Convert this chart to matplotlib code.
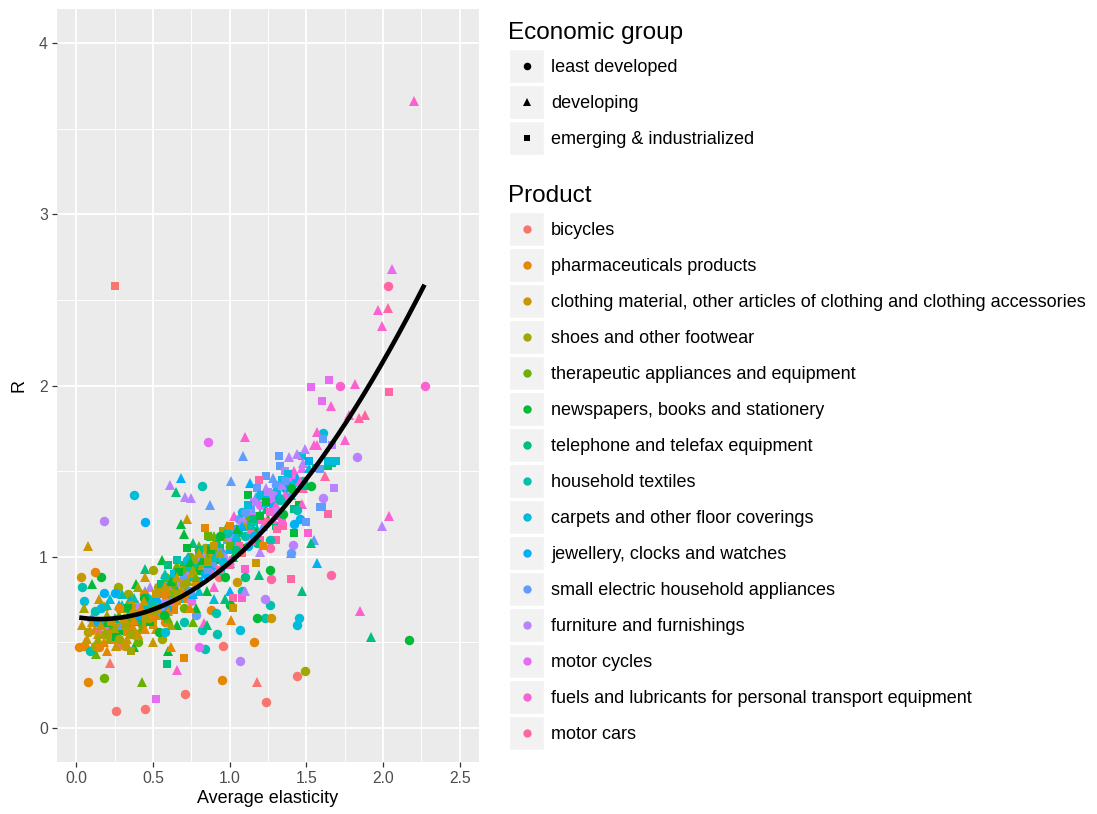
import numpy as np
import matplotlib
matplotlib.use("Agg")
import matplotlib.pyplot as plt
from matplotlib.patches import Rectangle

plt.rcParams['font.family'] = ['Liberation Sans', 'DejaVu Sans']

# ---- data: (average elasticity, R, economic group) per product ----
# group codes: L = least developed, D = developing, E = emerging & industrialized
bicycles = [(0.25, 2.58, 'E'), (0.26, 0.10, 'L'), (0.45, 0.11, 'L'), (0.22, 0.38, 'D'),
            (0.27, 0.48, 'L'), (0.71, 0.20, 'L'), (0.96, 0.48, 'L'), (1.18, 0.27, 'D'),
            (1.24, 0.15, 'L'), (1.44, 0.30, 'L'), (0.62, 0.72, 'D'), (0.93, 0.88, 'L'),
            (1.08, 1.02, 'E')]
pharmaceuticals = [(0.02, 0.47, 'L'), (0.05, 0.48, 'L'), (0.08, 0.27, 'L'), (0.12, 0.91, 'L'),
                   (0.12, 0.58, 'D'), (0.22, 0.56, 'D'), (0.30, 0.62, 'D'), (0.62, 0.47, 'D'),
                   (0.70, 0.41, 'E'), (0.95, 0.28, 'L'), (1.01, 0.63, 'D'), (0.88, 0.69, 'L'),
                   (1.16, 0.50, 'L'), (0.84, 1.17, 'E'), (0.40, 0.55, 'D'), (0.48, 0.67, 'D'),
                   (0.55, 0.72, 'E'), (0.58, 0.62, 'L'), (0.35, 0.60, 'L'), (0.68, 0.80, 'D'),
                   (0.72, 0.75, 'E'), (0.18, 0.50, 'D'), (0.44, 0.78, 'L'), (0.52, 0.58, 'D'),
                   (0.64, 0.69, 'E'), (0.78, 0.84, 'L'), (0.06, 0.50, 'D'), (0.15, 0.47, 'L'),
                   (0.20, 0.45, 'D'), (0.26, 0.52, 'D'), (0.33, 0.56, 'E'), (0.38, 0.63, 'D'),
                   (0.45, 0.58, 'D'), (0.50, 0.64, 'E'), (0.53, 0.70, 'D'), (0.60, 0.68, 'D'),
                   (0.66, 0.74, 'E'), (0.57, 0.78, 'L'), (0.42, 0.70, 'D'), (0.28, 0.70, 'L'),
                   (0.74, 0.70, 'D'), (1.00, 1.18, 'E'), (1.22, 1.06, 'E')]
clothing = [(0.08, 1.06, 'D'), (0.72, 1.22, 'D'), (0.03, 0.88, 'L'), (0.10, 0.62, 'D'),
            (0.15, 0.75, 'D'), (0.18, 0.71, 'D'), (0.20, 0.57, 'D'), (0.25, 0.55, 'E'),
            (0.28, 0.60, 'L'), (0.33, 0.52, 'D'), (0.38, 0.58, 'D'), (0.42, 0.64, 'L'),
            (0.47, 0.70, 'D'), (0.50, 0.60, 'E'), (0.55, 0.66, 'D'), (0.60, 0.75, 'L'),
            (0.65, 0.82, 'D'), (0.70, 0.78, 'D'), (0.75, 0.90, 'E'), (0.82, 0.95, 'D'),
            (0.88, 1.00, 'L'), (1.17, 0.96, 'E'), (1.05, 0.85, 'L'), (1.27, 0.64, 'L'),
            (0.32, 0.48, 'L'), (0.14, 0.55, 'D'), (0.45, 0.88, 'D'), (0.95, 1.12, 'D'),
            (1.02, 0.70, 'E'), (0.07, 0.52, 'D'), (0.36, 0.72, 'L'), (0.04, 0.60, 'D'),
            (0.09, 0.57, 'D'), (0.16, 0.60, 'D'), (0.23, 0.62, 'E'), (0.31, 0.64, 'D'),
            (0.37, 0.67, 'L'), (0.44, 0.74, 'D'), (0.52, 0.78, 'E'), (0.58, 0.83, 'D'),
            (0.66, 0.88, 'D'), (0.80, 1.02, 'D'), (0.90, 1.06, 'E'), (0.40, 0.54, 'D'),
            (0.26, 0.48, 'D'), (0.50, 0.50, 'D')]
shoes = [(0.27, 0.82, 'L'), (0.34, 0.78, 'L'), (0.50, 0.92, 'L'), (0.22, 0.51, 'E'),
         (0.23, 0.53, 'E'), (0.17, 0.62, 'L'), (0.20, 0.66, 'D'), (0.30, 0.70, 'D'),
         (0.38, 0.65, 'E'), (0.43, 0.60, 'L'), (0.48, 0.74, 'D'), (0.53, 0.82, 'L'),
         (0.58, 0.70, 'E'), (0.63, 0.85, 'D'), (0.68, 0.92, 'L'), (0.73, 0.86, 'D'),
         (0.78, 0.98, 'E'), (0.84, 1.05, 'L'), (0.90, 1.08, 'D'), (0.96, 1.15, 'E'),
         (1.10, 1.18, 'D'), (0.12, 0.48, 'L'), (0.40, 0.82, 'D'), (0.56, 0.52, 'L'),
         (0.05, 0.70, 'D'), (0.36, 0.45, 'E'), (0.62, 0.60, 'D'), (1.49, 0.33, 'L'),
         (0.08, 0.56, 'L'), (0.14, 0.52, 'D'), (0.19, 0.55, 'L'), (0.25, 0.58, 'D'),
         (0.32, 0.60, 'E'), (0.36, 0.55, 'L'), (0.46, 0.64, 'D'), (0.51, 0.69, 'L'),
         (0.60, 0.80, 'D'), (0.66, 0.78, 'E'), (0.70, 0.84, 'L'), (0.76, 0.92, 'D'),
         (0.86, 0.97, 'E'), (0.94, 1.02, 'D'), (0.28, 0.52, 'L')]
therapeutic = [(0.18, 0.29, 'L'), (0.43, 0.27, 'D'), (0.13, 0.43, 'D'), (0.35, 0.75, 'D'),
               (0.45, 0.68, 'L'), (0.52, 0.75, 'D'), (0.58, 0.88, 'L'), (0.66, 0.95, 'D'),
               (0.74, 1.00, 'L'), (0.80, 1.06, 'D'), (0.86, 1.12, 'E'), (0.92, 1.04, 'L'),
               (0.98, 1.18, 'D'), (1.04, 1.10, 'L'), (0.28, 0.66, 'D'), (0.62, 0.78, 'E'),
               (0.70, 0.70, 'L'), (1.12, 1.24, 'D'), (0.40, 0.50, 'L'), (0.76, 0.62, 'D'),
               (0.24, 0.60, 'D'), (0.33, 0.62, 'L'), (0.48, 0.72, 'D'), (0.56, 0.70, 'D'),
               (0.64, 0.84, 'L'), (0.72, 0.92, 'E'), (0.78, 0.88, 'D'), (0.84, 0.99, 'L'),
               (0.90, 1.12, 'D'), (1.00, 1.06, 'E'), (0.60, 0.64, 'D'), (0.42, 0.58, 'D')]
newspapers = [(0.16, 0.88, 'L'), (0.10, 0.84, 'D'), (0.39, 0.84, 'D'), (0.38, 0.47, 'D'),
              (0.60, 0.45, 'D'), (0.68, 1.19, 'D'), (0.70, 1.13, 'D'), (1.12, 1.36, 'E'),
              (1.18, 0.64, 'L'), (2.17, 0.51, 'L'), (0.56, 0.98, 'D'), (0.72, 1.05, 'E'),
              (0.80, 0.92, 'L'), (0.85, 0.80, 'D'), (0.92, 0.98, 'E'), (0.97, 0.88, 'L'),
              (1.02, 1.00, 'D'), (1.08, 1.05, 'E'), (1.15, 1.15, 'L'), (1.25, 1.22, 'D'),
              (1.35, 1.25, 'L'), (1.45, 1.30, 'E'), (0.48, 0.62, 'E'), (0.54, 0.56, 'L'),
              (0.66, 0.60, 'D'), (0.30, 0.57, 'L'), (1.00, 0.72, 'L'), (0.78, 0.70, 'D'),
              (1.40, 1.40, 'L'), (0.20, 0.62, 'D'), (0.34, 0.70, 'E'), (0.44, 0.76, 'L'),
              (0.62, 0.86, 'D'), (0.67, 0.91, 'E'), (0.74, 0.97, 'D'), (0.88, 1.04, 'E'),
              (0.94, 1.12, 'L'), (1.05, 1.16, 'D'), (1.20, 1.24, 'E'), (0.82, 0.98, 'D'),
              (0.26, 0.53, 'E'), (0.57, 0.66, 'L'), (1.26, 0.92, 'L'), (1.53, 1.41, 'L'),
              (1.42, 1.14, 'E'), (1.24, 1.32, 'E')]
telephone = [(0.65, 1.38, 'D'), (0.59, 0.37, 'E'), (0.45, 0.93, 'D'), (0.62, 0.88, 'D'),
             (0.70, 0.95, 'E'), (0.76, 1.08, 'D'), (0.82, 0.92, 'L'), (0.88, 1.12, 'D'),
             (0.94, 1.05, 'E'), (1.00, 0.96, 'D'), (1.06, 1.14, 'E'), (1.12, 1.20, 'D'),
             (1.18, 1.08, 'L'), (1.24, 1.28, 'D'), (1.30, 1.18, 'E'), (1.36, 1.34, 'D'),
             (1.42, 1.28, 'E'), (1.50, 1.42, 'D'), (1.67, 1.55, 'E'), (1.64, 1.53, 'E'),
             (1.92, 0.53, 'D'), (1.47, 0.80, 'D'), (0.85, 0.60, 'D'), (0.50, 0.76, 'D'),
             (0.40, 0.62, 'E'), (1.10, 0.88, 'L'), (0.25, 0.64, 'D'), (0.35, 0.68, 'D'),
             (0.55, 0.84, 'E'), (0.66, 0.80, 'D'), (0.73, 1.00, 'D'), (0.80, 1.04, 'E'),
             (0.86, 0.96, 'D'), (0.92, 1.08, 'D'), (1.04, 1.04, 'L'), (1.16, 1.22, 'E'),
             (1.53, 1.08, 'D'), (0.97, 0.75, 'D'), (0.60, 0.95, 'E'), (1.19, 0.89, 'D')]
textiles = [(0.82, 1.41, 'L'), (0.04, 0.82, 'L'), (0.09, 0.45, 'L'), (0.82, 0.57, 'L'),
            (0.92, 0.55, 'L'), (1.23, 0.64, 'L'), (0.84, 0.46, 'L'), (0.30, 0.78, 'D'),
            (0.55, 0.80, 'L'), (0.62, 0.70, 'D'), (0.70, 0.86, 'E'), (0.78, 0.96, 'L'),
            (0.86, 1.02, 'D'), (0.94, 0.92, 'L'), (1.02, 1.08, 'E'), (1.10, 1.12, 'L'),
            (1.18, 1.16, 'D'), (1.26, 1.10, 'L'), (1.32, 1.24, 'E'), (1.40, 1.36, 'D'),
            (1.48, 1.44, 'L'), (1.56, 1.52, 'E'), (1.08, 0.80, 'L'), (0.46, 0.72, 'E'),
            (0.20, 0.72, 'D'), (0.70, 0.62, 'L'), (0.12, 0.68, 'L'), (0.38, 0.76, 'D'),
            (0.50, 0.72, 'L'), (0.58, 0.90, 'D'), (0.66, 0.98, 'E'), (0.74, 0.94, 'L'),
            (0.90, 1.00, 'D'), (0.98, 1.14, 'L'), (1.14, 1.18, 'E'), (1.44, 1.27, 'L'),
            (1.26, 0.72, 'L'), (0.91, 0.67, 'L'), (1.33, 1.33, 'L')]
carpets = [(0.38, 1.36, 'L'), (0.05, 0.74, 'L'), (1.61, 1.72, 'L'), (1.47, 1.59, 'E'),
           (1.34, 1.45, 'E'), (1.41, 1.43, 'E'), (1.07, 0.57, 'L'), (1.45, 0.64, 'L'),
           (1.44, 0.60, 'L'), (0.22, 0.75, 'D'), (0.40, 0.70, 'L'), (0.52, 0.66, 'E'),
           (0.60, 0.83, 'L'), (0.68, 0.76, 'D'), (0.76, 0.88, 'E'), (0.84, 0.98, 'L'),
           (0.92, 1.10, 'D'), (1.00, 1.04, 'E'), (1.08, 1.26, 'L'), (1.16, 1.20, 'E'),
           (1.24, 1.32, 'D'), (1.30, 1.38, 'L'), (1.38, 1.48, 'E'), (1.52, 1.52, 'D'),
           (1.69, 1.56, 'E'), (0.90, 0.75, 'D'), (0.58, 0.56, 'L'), (0.16, 0.70, 'L'),
           (0.30, 0.72, 'D'), (0.46, 0.76, 'L'), (0.64, 0.90, 'E'), (0.72, 0.98, 'L'),
           (0.80, 0.80, 'D'), (0.88, 1.05, 'E'), (0.96, 0.97, 'L'), (1.04, 1.12, 'D'),
           (1.12, 1.30, 'E'), (1.20, 1.36, 'L'), (1.64, 1.56, 'E')]
jewellery = [(0.68, 1.46, 'D'), (1.13, 1.43, 'D'), (0.45, 1.20, 'L'), (0.18, 0.79, 'L'),
             (0.25, 0.79, 'L'), (1.57, 0.96, 'D'), (0.35, 0.74, 'D'), (0.48, 0.70, 'L'),
             (0.56, 0.78, 'E'), (0.64, 0.74, 'L'), (0.72, 0.82, 'D'), (0.80, 0.86, 'E'),
             (0.88, 0.94, 'L'), (0.96, 1.02, 'D'), (1.04, 1.16, 'E'), (1.12, 1.06, 'L'),
             (1.20, 1.25, 'D'), (1.28, 1.30, 'E'), (1.36, 1.40, 'L'), (1.44, 1.46, 'D'),
             (1.52, 1.56, 'E'), (1.46, 1.22, 'L'), (1.00, 0.80, 'D'), (0.14, 0.62, 'L'),
             (0.28, 0.72, 'D'), (0.40, 0.66, 'E'), (0.52, 0.74, 'L'), (0.60, 0.70, 'E'),
             (0.76, 0.78, 'D'), (0.84, 0.90, 'L'), (0.92, 1.00, 'E'), (1.08, 1.18, 'D'),
             (1.16, 1.12, 'L'), (1.24, 1.36, 'E'), (1.32, 1.34, 'L'), (1.42, 1.19, 'L')]
small_electric = [(1.09, 1.59, 'D'), (1.01, 1.44, 'D'), (0.87, 1.30, 'D'), (1.24, 1.47, 'E'),
                  (1.17, 1.35, 'D'), (1.32, 1.59, 'E'), (1.33, 1.53, 'E'), (1.61, 1.69, 'E'),
                  (1.59, 1.29, 'E'), (1.26, 1.33, 'E'), (1.25, 1.38, 'E'), (0.10, 0.65, 'D'),
                  (0.45, 0.80, 'D'), (0.70, 0.88, 'L'), (0.80, 1.00, 'E'), (0.90, 0.96, 'D'),
                  (0.98, 1.10, 'E'), (1.06, 1.22, 'L'), (1.14, 1.28, 'E'), (1.22, 1.18, 'D'),
                  (1.30, 1.42, 'L'), (1.38, 1.35, 'E'), (1.55, 1.10, 'D'), (0.78, 0.66, 'L'),
                  (1.40, 1.02, 'L'), (1.50, 1.20, 'E'), (0.30, 0.60, 'D'), (0.55, 0.68, 'E'),
                  (0.62, 0.74, 'D'), (0.74, 0.80, 'L'), (0.86, 0.92, 'E'), (0.94, 1.04, 'D'),
                  (1.02, 1.14, 'E'), (1.10, 1.26, 'L'), (1.18, 1.40, 'E'), (1.28, 1.46, 'D'),
                  (1.36, 1.44, 'E'), (1.40, 1.02, 'D'), (1.59, 1.51, 'E'), (1.60, 1.29, 'E')]
furniture = [(0.61, 1.42, 'D'), (0.71, 1.35, 'D'), (0.75, 1.34, 'D'), (0.18, 1.21, 'L'),
             (0.48, 0.82, 'D'), (1.07, 0.39, 'L'), (1.99, 1.18, 'D'), (1.83, 1.58, 'L'),
             (1.68, 1.40, 'E'), (1.61, 1.34, 'L'), (1.39, 1.58, 'D'), (1.44, 1.60, 'D'),
             (1.49, 1.63, 'D'), (1.48, 1.55, 'D'), (1.67, 1.65, 'E'), (0.92, 1.06, 'E'),
             (1.00, 1.12, 'D'), (1.08, 1.20, 'L'), (1.16, 1.32, 'E'), (1.24, 1.40, 'D'),
             (1.30, 1.26, 'L'), (1.36, 1.50, 'E'), (0.85, 0.94, 'L'), (0.58, 0.76, 'D'),
             (0.68, 0.84, 'E'), (1.20, 1.03, 'D'), (0.40, 0.72, 'D'), (0.66, 0.78, 'L'),
             (0.74, 0.92, 'D'), (0.82, 1.00, 'E'), (0.96, 1.00, 'L'), (1.04, 1.16, 'D'),
             (1.12, 1.26, 'E'), (1.28, 1.36, 'L'), (1.34, 1.42, 'D'), (1.41, 1.07, 'L'),
             (1.10, 0.80, 'D'), (1.23, 0.75, 'L'), (1.25, 1.38, 'E')]
motor_cycles = [(0.86, 1.67, 'L'), (2.06, 2.68, 'D'), (1.53, 1.99, 'E'), (1.65, 2.03, 'E'),
                (1.60, 1.91, 'E'), (0.52, 0.17, 'E'), (0.80, 0.47, 'L'), (1.20, 1.30, 'L'),
                (1.30, 1.40, 'D'), (1.38, 1.46, 'E'), (0.95, 1.02, 'L'), (1.10, 1.20, 'D'),
                (1.47, 1.52, 'D'), (0.20, 0.60, 'D'), (0.62, 0.80, 'L'), (0.88, 0.90, 'L'),
                (1.00, 1.08, 'D'), (1.16, 1.24, 'E'), (1.26, 1.34, 'L'), (1.40, 1.48, 'D'),
                (0.75, 0.74, 'L')]
fuels = [(2.20, 3.66, 'D'), (1.10, 1.70, 'D'), (1.03, 1.24, 'D'), (1.82, 2.01, 'D'),
         (1.66, 1.88, 'D'), (1.57, 1.73, 'D'), (1.57, 1.65, 'D'), (1.75, 1.68, 'D'),
         (1.55, 1.65, 'D'), (1.42, 1.50, 'D'), (1.97, 2.44, 'D'), (1.99, 2.35, 'D'),
         (2.27, 2.00, 'L'), (2.04, 1.24, 'D'), (1.85, 0.68, 'D'), (0.66, 0.34, 'D'),
         (0.83, 0.61, 'D'), (1.20, 1.22, 'D'), (1.30, 1.30, 'D'), (1.34, 1.20, 'E'),
         (1.10, 0.93, 'E'), (0.90, 0.82, 'D'), (1.72, 2.00, 'L'), (1.78, 1.83, 'D'),
         (1.51, 1.14, 'E'), (1.00, 0.98, 'D'), (1.14, 1.10, 'D'), (1.26, 1.26, 'E'),
         (1.36, 1.36, 'D'), (1.46, 1.44, 'D'), (1.28, 1.22, 'D'), (0.64, 0.74, 'D'),
         (1.08, 0.76, 'E'), (1.47, 1.31, 'D')]
motor_cars = [(2.03, 2.58, 'L'), (2.03, 2.45, 'D'), (2.04, 1.96, 'E'), (1.84, 1.81, 'D'),
              (1.88, 1.83, 'D'), (1.19, 1.45, 'E'), (1.66, 0.89, 'L'), (1.40, 0.87, 'E'),
              (1.27, 0.87, 'L'), (1.64, 1.25, 'E'), (1.30, 1.10, 'E'), (1.20, 1.10, 'E'),
              (1.35, 1.18, 'E'), (1.00, 0.95, 'E'), (1.48, 1.40, 'D'), (0.15, 0.58, 'D'),
              (1.62, 1.47, 'D'), (1.26, 1.05, 'L'), (0.94, 0.92, 'E'), (1.06, 1.06, 'E'),
              (1.14, 1.16, 'D'), (1.24, 1.20, 'E'), (1.02, 0.76, 'E'), (1.31, 1.16, 'E')]

# smoothed trend of R against average elasticity
trend_x = [0.02, 0.16, 0.33, 0.55, 0.76, 0.98, 1.19, 1.41, 1.62, 1.86, 2.06, 2.27]
trend_y = [0.65, 0.63, 0.65, 0.70, 0.80, 0.96, 1.14, 1.35, 1.59, 1.90, 2.27, 2.58]

products = ["bicycles", "pharmaceuticals products",
            "clothing material, other articles of clothing and clothing accessories",
            "shoes and other footwear", "therapeutic appliances and equipment",
            "newspapers, books and stationery", "telephone and telefax equipment",
            "household textiles", "carpets and other floor coverings",
            "jewellery, clocks and watches", "small electric household appliances",
            "furniture and furnishings", "motor cycles",
            "fuels and lubricants for personal transport equipment", "motor cars"]
product_series = [bicycles, pharmaceuticals, clothing, shoes, therapeutic, newspapers,
                  telephone, textiles, carpets, jewellery, small_electric, furniture,
                  motor_cycles, fuels, motor_cars]
palette = ["#F8766D", "#E58700", "#C99800", "#A3A500", "#6BB100", "#00BA38", "#00BF7D",
           "#00C0AF", "#00BCD8", "#00B0F6", "#619CFF", "#B983FF", "#E76BF3", "#FD61D1",
           "#FF67A4"]

group_codes = ['L', 'D', 'E']
group_labels = ["least developed", "developing", "emerging & industrialized"]
group_marker = {'L': ('o', 6.8), 'D': ('^', 7.8), 'E': ('s', 6.2)}

W, H = 1097, 814
fig = plt.figure(figsize=(W / 100, H / 100), dpi=100)

# ---- plot panel ----
left, right, top, bottom = 57, 479, 9, 762
ax = fig.add_axes([left / W, 1 - bottom / H, (right - left) / W, (bottom - top) / H])
ax.set_facecolor('#EBEBEB')
for s in ax.spines.values():
    s.set_visible(False)
ax.set_xlim(-0.125, 2.625)
ax.set_ylim(-0.2, 4.2)
ax.set_xticks([0, 0.5, 1.0, 1.5, 2.0, 2.5])
ax.set_xticklabels(["0.0", "0.5", "1.0", "1.5", "2.0", "2.5"])
ax.set_xticks([0.25, 0.75, 1.25, 1.75, 2.25], minor=True)
ax.set_yticks([0, 1, 2, 3, 4])
ax.set_yticks([0.5, 1.5, 2.5, 3.5], minor=True)
ax.grid(which='major', color='white', lw=1.3)
ax.grid(which='minor', color='white', lw=0.65)
ax.set_axisbelow(True)
ax.tick_params(which='minor', length=0)
ax.tick_params(which='major', length=3.5, width=0.9, color='#333333',
               labelcolor='#4D4D4D', labelsize=11.3, pad=3)
ax.set_xlabel("Average elasticity", fontsize=13, color='black', labelpad=3)
ax.set_ylabel("R", fontsize=13, color='black', labelpad=8)

# points, interleaved across products so no colour sits entirely on top
longest = max(len(s) for s in product_series)
for i in range(longest):
    for series, col in zip(product_series, palette):
        if i < len(series):
            x, y, g = series[i]
            m, ms = group_marker[g]
            ax.plot([x], [y], linestyle='none', marker=m, markersize=ms,
                    markerfacecolor=col, markeredgewidth=0, zorder=3)

# smooth cubic through the trend readings
coef = np.polyfit(trend_x, trend_y, 3)
xs = np.linspace(min(trend_x), max(trend_x), 200)
ax.plot(xs, np.polyval(coef, xs), color='black', lw=3.3, zorder=4, solid_capstyle='butt')

# ---- legends (drawn in pixel space) ----
lg = fig.add_axes([0, 0, 1, 1])
lg.set_xlim(0, W)
lg.set_ylim(H, 0)
lg.axis('off')
lg.patch.set_alpha(0)

key_x, key_w, pitch = 509, 35, 36


def draw_key(yc, marker, ms, color):
    lg.add_patch(Rectangle((key_x, yc - 17), key_w, 34, facecolor='#F2F2F2',
                           edgecolor='white', lw=1))
    lg.plot([key_x + key_w / 2], [yc], marker=marker, markersize=ms, color=color,
            markeredgewidth=0, linestyle='none')


lg.text(508, 33, "Economic group", fontsize=17.5, va='center', ha='left')
for k, (code, lab) in enumerate(zip(group_codes, group_labels)):
    yc = 66 + k * pitch
    m, ms = group_marker[code]
    draw_key(yc, m, ms * 0.8, 'black')
    lg.text(551, yc + 1.5, lab, fontsize=13, va='center', ha='left')

lg.text(508, 196, "Product", fontsize=17.5, va='center', ha='left')
for k, (lab, col) in enumerate(zip(products, palette)):
    yc = 229 + k * pitch
    draw_key(yc, 'o', 6.0, col)
    lg.text(551, yc + 1.5, lab, fontsize=13, va='center', ha='left')

fig.savefig("out.png", dpi=100)
